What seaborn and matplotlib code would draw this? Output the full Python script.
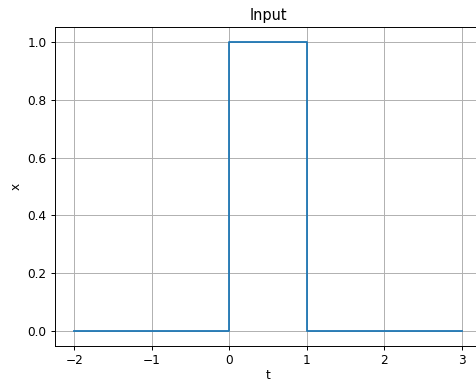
import matplotlib
matplotlib.use('Agg')
import matplotlib.pyplot as plt
import pandas as pd
import seaborn as sns

# rectangular pulse: 1 on [0, 1], 0 elsewhere on [-2, 3]
t = [-2, 0, 0, 1, 1, 3]
x = [0, 0, 1, 1, 0, 0]
df = pd.DataFrame({'t': t, 'x': x})

dpi = 87
fig = plt.figure(figsize=(476 / dpi, 381 / dpi), dpi=dpi)
ax = fig.add_axes([0.1155, 0.092, 0.895, 0.837])
sns.lineplot(data=df, x='t', y='x', ax=ax, sort=False, estimator=None, color='#1f77b4')

ax.set_title('Input')
ax.set_xlabel('t', labelpad=1)
ax.set_ylabel('x')
ax.grid(True)

fig.savefig('out.png', dpi=dpi)
